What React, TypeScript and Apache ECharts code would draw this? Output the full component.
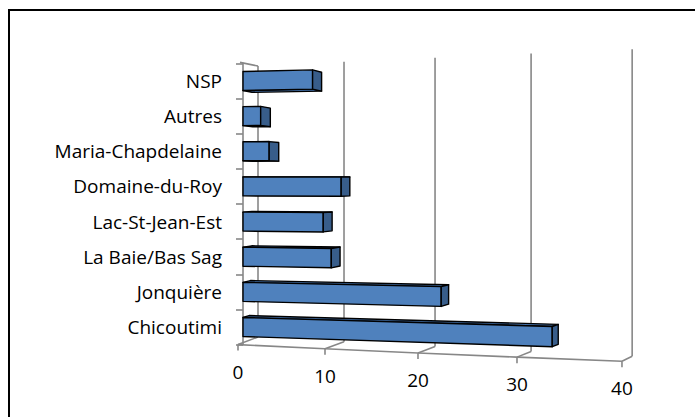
import React, { useEffect, useRef } from "react";
import * as echarts from "echarts";

const categories = [
  "Chicoutimi",
  "Jonquière",
  "La Baie/Bas Sag",
  "Lac-St-Jean-Est",
  "Domaine-du-Roy",
  "Maria-Chapdelaine",
  "Autres",
  "NSP",
];
const values = [33.1, 22.0, 10.2, 9.3, 11.3, 3.1, 2.1, 8.1];
const xTicks = [0, 10, 20, 30, 40];

const HORIZON = 180;
const GRID_COLOR = "#878787";
const FONT = "Open Sans";

const barX = (x0: number, X: number) => {
  const d = X - x0;
  return x0 + d + 0.00043 * d * d;
};
const barY = (y: number, xp: number, x0: number) => y + (y - HORIZON) * 0.00021 * (xp - x0);

export default function App() {
  const ref = useRef<HTMLDivElement>(null);
  useEffect(() => {
    if (!ref.current) return;
    const chart = echarts.init(ref.current, null, { renderer: "svg" });

    const frameItem = (params: any, api: any) => {
      const t = api.value(0);
      const X0 = api.coord([0, 0])[0];
      const band = api.size([0, 1])[1];
      const gridBottom = api.coord([0, 0])[1] + band / 2;
      const gridTop = api.coord([0, categories.length - 1])[1] - band / 2;
      const pos = (v: number) => {
        const d = api.coord([v, 0])[0] - X0;
        return {
          bx: X0 + 15 + d + 0.00036 * d * d,
          bt: gridTop + 2.6 - 0.05 * d,
          bb: gridBottom - 7.6 + 0.0575 * d,
          fx: X0 - 5 + 1.006 * d + 0.00043 * d * d,
          fy: gridBottom + 0.05 * d,
        };
      };
      const p = pos(t);
      const ls = { stroke: GRID_COLOR, lineWidth: 1.6 };
      const children: any[] = [
        { type: "line", shape: { x1: p.bx, y1: p.bt, x2: p.bx, y2: p.bb }, style: ls },
        { type: "line", shape: { x1: p.bx, y1: p.bb, x2: p.fx, y2: p.fy }, style: ls },
        { type: "line", shape: { x1: p.fx, y1: p.fy, x2: p.fx, y2: p.fy + 6 }, style: ls },
        {
          type: "text",
          x: p.fx,
          y: p.fy + 27,
          style: {
            text: String(t),
            fill: "#000",
            font: `19px "${FONT}"`,
            align: "center",
            verticalAlign: "middle",
          },
        },
      ];
      const i = params.dataIndex;
      if (i < xTicks.length - 1) {
        const n = pos(xTicks[i + 1]);
        children.push({ type: "line", shape: { x1: p.fx, y1: p.fy, x2: n.fx, y2: n.fy }, style: ls });
      }
      if (i === 0) {
        children.push({ type: "line", shape: { x1: X0 - 3, y1: gridTop - 1, x2: p.bx, y2: p.bt }, style: ls });
      }
      return { type: "group", children };
    };

    const barItem = (params: any, api: any) => {
      const v = api.value(0);
      const idx = api.value(1);
      const p0 = api.coord([0, idx]);
      const p1 = api.coord([v, idx]);
      const band = api.size([0, 1])[1];
      const h = band * 0.54;
      const x0 = p0[0];
      const xL = x0;
      const xR = barX(x0, p1[0]);
      const yt = p0[1] - h / 2;
      const yb = p0[1] + h / 2;
      const A = [xL, barY(yt, xL, x0)];
      const B = [xR, barY(yt, xR, x0)];
      const C = [xR, barY(yb, xR, x0)];
      const D = [xL, barY(yb, xL, x0)];
      const w = Math.max(5, Math.min(10, 9 - 0.0125 * (xR - 313)));
      const dep = (p: number[]) => [p[0] + w, p[1] - (p[1] - HORIZON) * 0.0024 * w];
      const A2 = dep(A), B2 = dep(B), C2 = dep(C), D2 = dep(D);
      const cap = p0[1] > HORIZON ? [A, B, B2, A2] : [D, C, C2, D2];
      const stroke = { stroke: "#000", lineWidth: 1.4, lineJoin: "round" };
      return {
        type: "group",
        children: [
          { type: "polygon", shape: { points: cap }, style: { fill: "#416fa8", ...stroke } },
          { type: "polygon", shape: { points: [A, B, C, D] }, style: { fill: "#4f81bd", ...stroke } },
          { type: "polygon", shape: { points: [B, B2, C2, C] }, style: { fill: "#385d8a", ...stroke } },
        ],
      };
    };

    chart.setOption({
      animation: false,
      grid: { left: 243, right: 118, top: 63.4, bottom: 72.4, containLabel: false },
      xAxis: { type: "value", min: 0, max: 40, interval: 10, show: false },
      yAxis: {
        type: "category",
        data: categories,
        offset: 3,
        axisLine: { show: true, lineStyle: { color: GRID_COLOR, width: 1.6 } },
        axisTick: { show: true, length: 7, lineStyle: { color: GRID_COLOR, width: 1.6 } },
        axisLabel: { color: "#000", fontSize: 19, fontFamily: FONT, margin: 18 },
        splitLine: { show: false },
      },
      graphic: [
        {
          type: "rect",
          shape: { x: 9, y: 10, width: 800, height: 500 },
          style: { fill: "none", stroke: "#000", lineWidth: 2 },
          silent: true,
        },
      ],
      series: [
        {
          type: "custom",
          z: 1,
          clip: false,
          silent: true,
          data: xTicks.map((t) => [t, 0]),
          encode: { x: 0, y: 1 },
          renderItem: frameItem,
        },
        {
          type: "custom",
          z: 2,
          clip: false,
          data: values.map((v, i) => [v, i]),
          encode: { x: 0, y: 1 },
          renderItem: barItem,
        },
      ],
    });
    return () => chart.dispose();
  }, []);
  return <div ref={ref} style={{ position: "absolute", left: 0, top: 0, width: 695, height: 417, background: "#fff" }} />;
}
